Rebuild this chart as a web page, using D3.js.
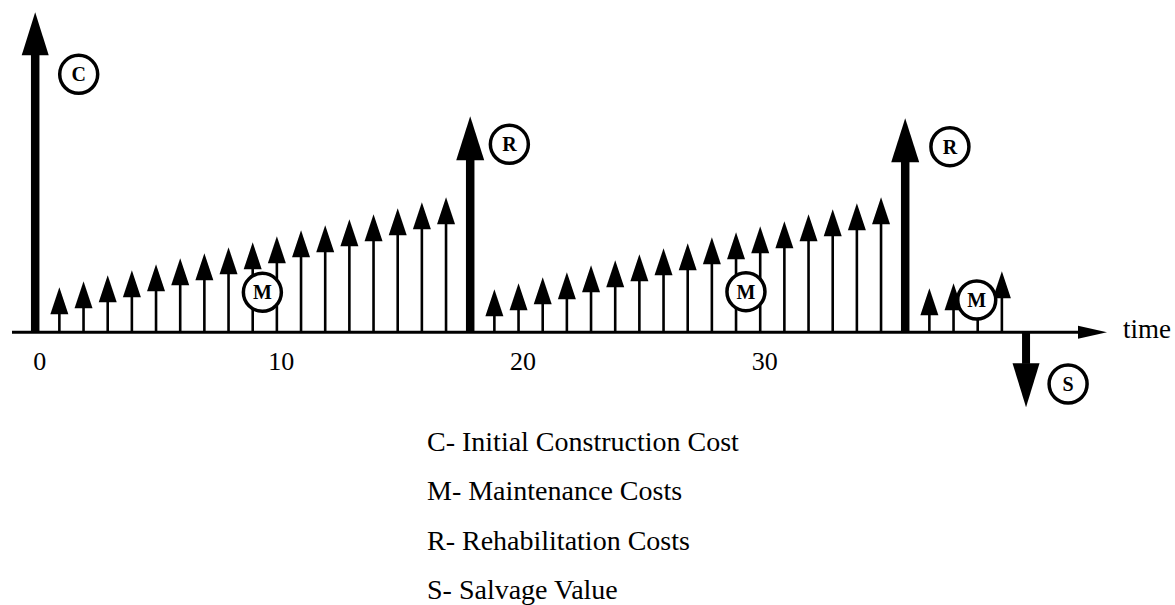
<!DOCTYPE html>
<html lang="en">
<head>
<meta charset="utf-8">
<title>Life-cycle cost stream</title>
<script src="https://cdn.jsdelivr.net/npm/d3@7"></script>
<style>
  body { margin: 0; background: #fff; }
  svg { display: block; font-family: "Liberation Serif", "Times New Roman", serif; }
</style>
</head>
<body>
<div id="container"></div>
<script>
// cash flows (arbitrary cost units, year on the time axis)
const constructionYear = 0;
const constructionCost = 320;

const maintYears = [1, 2, 3, 4, 5, 6, 7, 8, 9, 10, 11, 12, 13, 14, 15, 16, 17,
                    19, 20, 21, 22, 23, 24, 25, 26, 27, 28, 29, 30, 31, 32, 33, 34, 35,
                    37, 38, 39, 40];
const maintCosts = [45, 51, 57, 62, 68, 74, 79, 85, 90, 96, 102, 107, 113, 118, 124, 130, 135,
                    43, 49, 55, 60, 67, 72, 78, 84, 89, 95, 100, 106, 111, 118, 123, 129, 135,
                    44, 49, 48, 61];

const rehabYears = [18, 36];
const rehabCosts = [216, 214];

const salvageYear = 41;
const salvageValue = -75;

const tickValues = [0, 10, 20, 30];
const legendLines = [
  "C- Initial Construction Cost",
  "M- Maintenance Costs",
  "R- Rehabilitation Costs",
  "S- Salvage Value"
];

const width = 1175, height = 605;

const x = d3.scaleLinear().domain([-0.96, 44.35]).range([12, 1107]);
const y = d3.scaleLinear().domain([0, 320]).range([332.3, 12.3]);

const svg = d3.create("svg")
    .attr("width", width)
    .attr("height", height)
    .attr("viewBox", [0, 0, width, height]);

// time axis with arrow head
const axisEnd = x.range()[1];
svg.append("line")
    .attr("x1", x.range()[0]).attr("x2", axisEnd - 20)
    .attr("y1", y(0)).attr("y2", y(0))
    .attr("stroke", "#000").attr("stroke-width", 3);
svg.append("path")
    .attr("d", `M${axisEnd},${y(0)}L${axisEnd - 29},${y(0) - 6.5}L${axisEnd - 29},${y(0) + 6.5}Z`)
    .attr("fill", "#000");

svg.append("g")
    .attr("transform", `translate(4,${y(0)})`)
    .call(d3.axisBottom(x).tickValues(tickValues).tickSize(0).tickPadding(19))
    .call(g => g.select(".domain").remove())
    .call(g => g.selectAll("text")
        .attr("fill", "#000")
        .style("font-family", "'Liberation Serif', 'Times New Roman', serif")
        .style("font-size", "26px"));

svg.append("text")
    .attr("x", axisEnd + 16)
    .attr("y", y(0) + 6)
    .style("font-size", "27px")
    .text("time");

// one arrow: stem from the axis, triangular head at the value
function arrow(g, t, v, stemW, headLen, headW) {
  const cx = x(t), y0 = y(0), yt = y(v);
  const dir = v > 0 ? 1 : -1;
  const base = yt + dir * headLen;
  g.append("rect")
      .attr("x", cx - stemW / 2)
      .attr("y", Math.min(y0, base) - 0.5)
      .attr("width", stemW)
      .attr("height", Math.abs(base - y0) + 1)
      .attr("fill", "#000");
  g.append("path")
      .attr("d", `M${cx},${yt}L${cx - headW / 2},${base}L${cx + headW / 2},${base}Z`)
      .attr("fill", "#000");
}

const arrows = svg.append("g");
maintYears.forEach((t, i) => arrow(arrows, t, maintCosts[i], 2.6, 27, 18));
arrow(arrows, constructionYear, constructionCost, 8.5, 43, 27);
rehabYears.forEach((t, i) => arrow(arrows, t, rehabCosts[i], 8.5, 44, 28));
arrow(arrows, salvageYear, salvageValue, 8, 44, 27);

// circled letters, placed in chart coordinates next to their arrows
const labelSpots = [
  {k: "C", t: 1.80, v: 258},
  {k: "M", t: 9.40, v: 40},
  {k: "R", t: 19.62, v: 188},
  {k: "M", t: 29.41, v: 40.6},
  {k: "R", t: 37.85, v: 185.6},
  {k: "M", t: 38.96, v: 32.3},
  {k: "S", t: 42.74, v: -51.7}
];

const tags = svg.append("g")
  .selectAll("g")
  .data(labelSpots)
  .join("g")
    .attr("transform", d => `translate(${x(d.t)},${y(d.v)})`);
tags.append("circle")
    .attr("r", 19)
    .attr("fill", "#fff")
    .attr("stroke", "#000")
    .attr("stroke-width", 3.5);
tags.append("text")
    .attr("text-anchor", "middle")
    .attr("dy", "0.35em")
    .style("font-size", "20px")
    .style("font-weight", "bold")
    .text(d => d.k);

// legend
svg.append("g")
  .selectAll("text")
  .data(legendLines)
  .join("text")
    .attr("x", 427)
    .attr("y", (d, i) => 451 + i * 49.3)
    .style("font-size", "28px")
    .text(d => d);

d3.select("#container").append(() => svg.node());
</script>
</body>
</html>
